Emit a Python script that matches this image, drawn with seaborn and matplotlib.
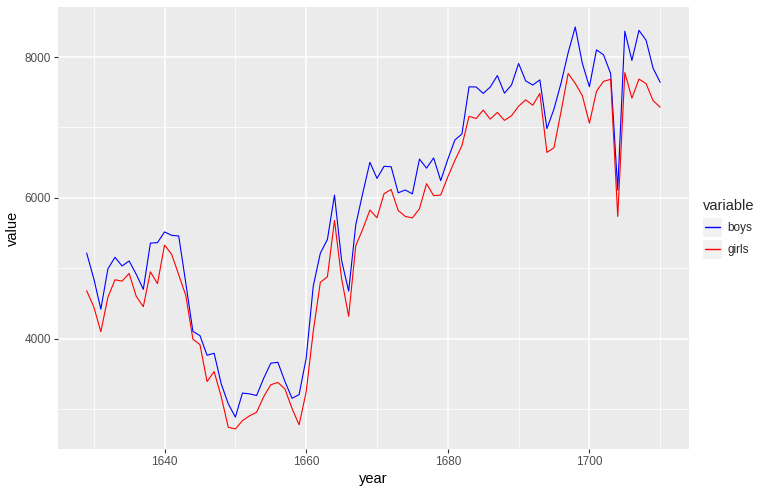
import pandas as pd
import numpy as np
import matplotlib
matplotlib.use("Agg")
import matplotlib.pyplot as plt
import seaborn as sns
from matplotlib.legend_handler import HandlerLine2D
from matplotlib.patches import Rectangle
from matplotlib.lines import Line2D

# Arbuthnot baptism records, London
years = list(range(1629, 1711))

boys = [5218, 4858, 4422, 4994, 5158, 5035, 5106, 4917, 4703, 5359,
        5366, 5518, 5470, 5460, 4793, 4107, 4047, 3768, 3796, 3363,
        3079, 2890, 3231, 3220, 3196, 3441, 3655, 3668, 3396, 3157,
        3209, 3724, 4748, 5216, 5411, 6041, 5114, 4678, 5616, 6073,
        6506, 6278, 6449, 6443, 6073, 6113, 6058, 6552, 6423, 6568,
        6247, 6548, 6822, 6909, 7577, 7575, 7484, 7575, 7737, 7487,
        7604, 7909, 7662, 7602, 7676, 6985, 7263, 7632, 8062, 8426,
        7911, 7578, 8102, 8031, 7765, 6113, 8366, 7952, 8379, 8239,
        7840, 7640]

girls = [4683, 4457, 4102, 4590, 4839, 4820, 4928, 4605, 4457, 4952,
         4784, 5332, 5200, 4910, 4617, 3997, 3919, 3395, 3536, 3181,
         2746, 2722, 2840, 2908, 2959, 3179, 3349, 3382, 3289, 3013,
         2781, 3247, 4107, 4803, 4881, 5681, 4858, 4319, 5322, 5560,
         5829, 5719, 6061, 6120, 5822, 5738, 5717, 5847, 6203, 6033,
         6041, 6299, 6533, 6744, 7158, 7127, 7246, 7119, 7214, 7101,
         7167, 7302, 7392, 7316, 7483, 6647, 6713, 7229, 7767, 7626,
         7452, 7061, 7514, 7656, 7683, 5738, 7779, 7417, 7687, 7623,
         7380, 7288]

df = pd.DataFrame({"year": years, "boys": boys, "girls": girls})
long = df.melt(id_vars="year", var_name="variable", value_name="value")

# =====================================================
# STYLE (ggplot2 look)
# =====================================================
sns.set_theme(style="darkgrid", rc={
    "axes.facecolor": "#EBEBEB",
    "grid.color": "white",
    "axes.edgecolor": "#EBEBEB",
})
plt.rcParams["font.family"] = ["Liberation Sans", "DejaVu Sans"]

fig = plt.figure(figsize=(7.68, 4.94), dpi=100)
ax = fig.add_axes([0.0755, 0.091, 0.8215, 0.895])

sns.lineplot(data=long, x="year", y="value", hue="variable",
             palette={"boys": "#0000FF", "girls": "#FF0000"},
             linewidth=0.8, ax=ax, legend=False)

ax.set_xlim(1624.95, 1714.05)
ax.set_ylim(2436.8, 8711.2)
ax.set_xticks([1640, 1660, 1680, 1700])
ax.set_yticks([4000, 6000, 8000])
ax.set_xticks([1630, 1650, 1670, 1690, 1710], minor=True)
ax.set_yticks([3000, 5000, 7000], minor=True)
ax.grid(which="major", color="white", linewidth=1.1)
ax.grid(which="minor", color="white", linewidth=0.55)
ax.set_axisbelow(True)
for s in ax.spines.values():
    s.set_visible(False)

ax.tick_params(which="major", length=3, width=0.8, color="#333333",
               labelsize=8.5, labelcolor="#4D4D4D", pad=2,
               bottom=True, left=True)
ax.tick_params(which="minor", length=0)
ax.set_xlabel("year", fontsize=10.5, color="black", labelpad=3)
ax.set_ylabel("value", fontsize=10.5, color="black", labelpad=3)


# legend keys with grey background like ggplot
class KeyHandler(HandlerLine2D):
    def create_artists(self, legend, orig_handle, xdescent, ydescent,
                       width, height, fontsize, trans):
        bg = Rectangle((-xdescent, -ydescent + height / 2 - width / 2),
                       width, width, facecolor="#F2F2F2",
                       edgecolor="none", transform=trans)
        ln = Line2D([-xdescent + width * 0.1, -xdescent + width * 0.9],
                    [height / 2 - ydescent] * 2,
                    color=orig_handle.get_color(), linewidth=1.0,
                    transform=trans)
        return [bg, ln]


handles = [Line2D([], [], color="#0000FF"), Line2D([], [], color="#FF0000")]
leg = ax.legend(handles, ["boys", "girls"], title="variable",
                loc="center left", bbox_to_anchor=(1.005, 0.5),
                frameon=False, fontsize=8.5, title_fontsize=10.5,
                handlelength=1.6, handleheight=1.6, handletextpad=0.5,
                labelspacing=0.55, borderaxespad=0.5,
                handler_map={Line2D: KeyHandler()})
leg._legend_box.align = "left"

fig.savefig("out.png", dpi=100, facecolor="white")
